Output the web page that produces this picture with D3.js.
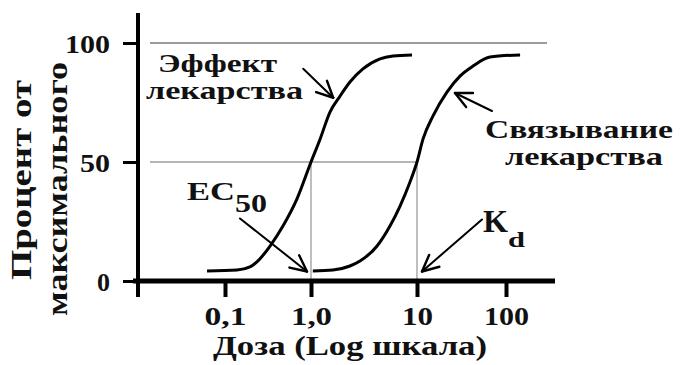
<!DOCTYPE html>
<html>
<head>
<meta charset="utf-8">
<script src="https://cdn.jsdelivr.net/npm/d3@7"></script>
<style>
  body { margin: 0; background: #fff; }
  svg { display: block; }
  text { font-family: "Times New Roman", "Liberation Serif", Tinos, Times, serif; font-weight: bold; fill: #111; }
</style>
</head>
<body>
<svg id="chart" width="680" height="365"></svg>
<script>
// Dose axis ticks (log scale) and their printed labels
const doseTicks = [0.1, 1, 10, 100];
const doseTickLabels = ["0,1", "1,0", "10", "100"];
const percentTicks = [0, 50, 100];

// Drug effect curve: dose vs percent of maximum
const effectDose    = [0.0618, 0.138, 0.195, 0.235, 0.334, 0.472, 0.687, 1, 1.22, 1.51, 1.88, 2.33, 3.09, 4.48, 5.94, 8.97];
const effectPercent = [4.2, 4.6, 5.9, 8.0, 14.7, 23.1, 34.5, 50, 59.7, 71.0, 77.7, 83.6, 89.1, 93.3, 94.5, 95.0];

// Drug binding curve: dose vs percent of maximum
const bindingDose    = [1.04, 1.61, 2.33, 2.90, 4.20, 5.56, 6.92, 8.59, 10, 11.7, 15.1, 21.7, 30.4, 42.6, 66.1, 144];
const bindingPercent = [4.2, 4.6, 6.3, 8.4, 14.7, 23.1, 31.5, 41.6, 50, 59.7, 69.3, 79.4, 86.1, 90.3, 94.1, 95.0];

const ec50 = 1;
const kd = 10;

const svg = d3.select("#chart");

// Hand-spaced decades, so the log scale is piecewise over the tick doses
const x = d3.scaleLog().domain(doseTicks).range([225, 311, 417, 506]);
const y = d3.scaleLinear().domain([0, 100]).range([281, 43]);

const GRID = "#9c9c9c";

// Reference lines
const grid = svg.append("g").attr("stroke", GRID).attr("fill", "none");
grid.append("line").attr("x1", 150).attr("x2", 547).attr("y1", y(100)).attr("y2", y(100)).attr("stroke-width", 2.2);
grid.append("line").attr("x1", 150).attr("x2", x(kd)).attr("y1", y(50)).attr("y2", y(50)).attr("stroke-width", 1.6);
[ec50, kd].forEach(d => {
  grid.append("line").attr("x1", x(d)).attr("x2", x(d)).attr("y1", y(50)).attr("y2", y(0)).attr("stroke-width", 1.3);
});

// Curves
const line = d3.line().x(d => x(d[0])).y(d => y(d[1])).curve(d3.curveMonotoneX);
svg.append("path")
  .datum(effectDose.map((d, i) => [d, effectPercent[i]]))
  .attr("d", line).attr("fill", "none").attr("stroke", "#000").attr("stroke-width", 3);
svg.append("path")
  .datum(bindingDose.map((d, i) => [d, bindingPercent[i]]))
  .attr("d", line).attr("fill", "none").attr("stroke", "#000").attr("stroke-width", 3);

// Axes
const gY = svg.append("g").attr("transform", "translate(138,0)")
  .call(d3.axisLeft(y).tickValues(percentTicks).tickSize(15).tickFormat(d3.format("d")));
gY.select(".domain").remove();
gY.selectAll(".tick line").attr("stroke", "#000").attr("stroke-width", 3);
const yLabelWidths = { 0: 13, 50: 30, 100: 45 };
gY.selectAll(".tick text")
  .attr("x", -28).attr("y", 9).attr("dy", null)
  .attr("font-size", 26).attr("fill", "#111")
  .attr("textLength", d => yLabelWidths[d]).attr("lengthAdjust", "spacingAndGlyphs");

const gX = svg.append("g").attr("transform", `translate(0,${y(0)})`)
  .call(d3.axisBottom(x).tickValues(doseTicks).tickFormat((d, i) => doseTickLabels[i]).tickSize(16));
gX.select(".domain").remove();
gX.selectAll(".tick line").attr("stroke", "#000").attr("stroke-width", 4);
const xLabelWidths = [42, 41, 31, 45];
gX.selectAll(".tick text")
  .attr("y", 44).attr("dy", null)
  .attr("font-size", 26).attr("fill", "#111")
  .attr("textLength", (d, i) => xLabelWidths[i]).attr("lengthAdjust", "spacingAndGlyphs");

// Axis spines
svg.append("line").attr("x1", 138).attr("x2", 138).attr("y1", 13).attr("y2", 297)
  .attr("stroke", "#000").attr("stroke-width", 4);
svg.append("line").attr("x1", 133).attr("x2", 555).attr("y1", y(0)).attr("y2", y(0))
  .attr("stroke", "#000").attr("stroke-width", 5);

// Text helper with fixed drawn width
function label(parent, str, px, py, size, width, anchor) {
  return parent.append("text")
    .attr("x", px).attr("y", py)
    .attr("font-size", size)
    .attr("text-anchor", anchor || "start")
    .attr("textLength", width)
    .attr("lengthAdjust", "spacingAndGlyphs")
    .text(str);
}

// Axis titles
label(svg, "Доза (Log шкала)", 213, 355, 27, 274);
const yTitle = svg.append("g");
label(yTitle, "Процент от", 0, 0, 30, 200, "middle").attr("transform", "translate(31,180) rotate(-90)");
label(yTitle, "максимального", 0, 0, 30, 254, "middle").attr("transform", "translate(67,189) rotate(-90)");

// Curve annotations
label(svg, "Эффект", 158, 72, 26, 119);
label(svg, "лекарства", 146, 99, 26, 157);
label(svg, "Связывание", 485, 138, 26, 188);
label(svg, "лекарства", 505, 165, 26, 158);
label(svg, "EC", 187, 200, 26, 48);
label(svg, "50", 235, 212, 26, 32);
label(svg, "K", 483, 232, 31, 25);
label(svg, "d", 508, 247, 22, 17);

// Pointer arrows: tip in data units, tail as a pixel offset from the tip
const arrows = [
  { dose: 1.62, pct: 77, shift: 0, tail: [-30, -29] },
  { dose: ec50, pct: 4, shift: -4, tail: [-67, -53] },
  { dose: 26.7, pct: 79, shift: 0, tail: [37, 18] },
  { dose: kd, pct: 4, shift: 5, tail: [60, -52] }
];
const gA = svg.append("g").attr("stroke", "#000").attr("fill", "none")
  .attr("stroke-width", 2).attr("stroke-linecap", "round");
arrows.forEach(a => {
  const tx = x(a.dose) + a.shift, ty = y(a.pct);
  const sx = tx + a.tail[0], sy = ty + a.tail[1];
  gA.append("line").attr("x1", sx).attr("y1", sy).attr("x2", tx).attr("y2", ty);
  const ang = Math.atan2(sy - ty, sx - tx);
  const len = 18, spread = 0.45;
  [ang - spread, ang + spread].forEach(b => {
    gA.append("line").attr("x1", tx).attr("y1", ty)
      .attr("x2", tx + len * Math.cos(b)).attr("y2", ty + len * Math.sin(b))
      .attr("stroke-width", 2.4);
  });
});
</script>
</body>
</html>
